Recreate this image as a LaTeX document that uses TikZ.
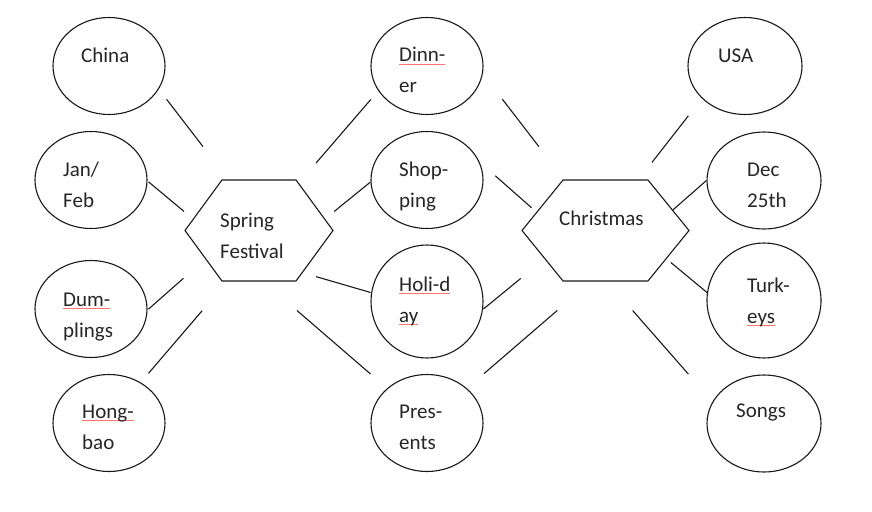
\documentclass[tikz,border=0pt]{standalone}
\usepackage{fontspec}
\setmainfont{Carlito}
\usetikzlibrary{shapes.geometric,shapes.symbols}

\newcommand{\twolines}[2]{\vtop{\baselineskip=31pt\hbox{#1}\hbox{#2}}}
\newcommand{\typo}[1]{\setbox0\hbox{#1}\rlap{\color{red!55}\rule[-0.25ex]{\wd0}{0.6pt}}\box0}

\begin{document}
\begin{tikzpicture}[x=1pt, y=-1pt,
  topic/.style={ellipse, draw=black!90, line width=1.1pt, minimum width=112pt, minimum height=97pt, inner sep=0pt},
  hub/.style={signal, signal to=west and east, draw=black!90, line width=1.1pt, minimum height=101pt, inner sep=0pt},
  word/.style={anchor=base west, inner sep=0pt, text=black!85, font=\fontsize{21pt}{31pt}\selectfont},
  link/.style={draw=black!90, line width=1.1pt},
  ]
 \path[use as bounding box, fill=white] (0,0) rectangle (872,511);

 \node [hub, minimum width=148pt, signal pointer angle=107.6] (spring) at (259,230.5) {};
 \node [hub, minimum width=167pt, signal pointer angle=101.8] (xmas) at (605.5,230.5) {};

 \node [topic] (china) at (109,66) {};
 \node [topic] (janfeb) at (91,180) {};
 \node [topic] (dumplings) at (91,309) {};
 \node [topic] (hongbao) at (109,423) {};
 \node [topic] (dinner) at (427,66) {};
 \node [topic] (shopping) at (427,180) {};
 \node [topic, minimum height=113pt] (holiday) at (427,301.5) {};
 \node [topic] (presents) at (427,423) {};
 \node [topic, minimum width=114pt] (usa) at (745,66) {};
 \node [topic, minimum width=114pt] (dec) at (764,180.5) {};
 \node [topic, minimum width=114pt, minimum height=115pt] (turkeys) at (764,300.5) {};
 \node [topic, minimum width=114pt] (songs) at (764,423.5) {};

 \node [word] (spring-t) at (220,227) {\twolines{Spring}{Festival}};
 \node [word] (xmas-t) at (559,225.5) {Christmas};
 \node [word] (china-t) at (81,63) {China};
 \node [word] (janfeb-t) at (63,176.5) {\twolines{Jan/}{Feb}};
 \node [word] (dumplings-t) at (63,306) {\twolines{\typo{Dum-}}{plings}};
 \node [word] (hongbao-t) at (82,418) {\twolines{\typo{Hong-}}{bao}};
 \node [word] (dinner-t) at (399,62) {\twolines{\typo{Dinn-}}{er}};
 \node [word] (shopping-t) at (399,176) {\twolines{Shop-}{ping}};
 \node [word] (holiday-t) at (399,291) {\twolines{\typo{Holi-d}}{\typo{ay}}};
 \node [word] (presents-t) at (399,418.5) {\twolines{Pres-}{ents}};
 \node [word] (usa-t) at (718,63) {USA};
 \node [word] (dec-t) at (747,176) {\twolines{Dec}{25th}};
 \node [word] (turkeys-t) at (747,292) {\twolines{Turk-}{\typo{eys}}};
 \node [word] (songs-t) at (736,417) {Songs};

 \draw [link, shorten <=12.7pt, shorten >=41.7pt] (china.-25) -- (spring.121.5);
 \draw [link, shorten <=1.3pt, shorten >=11.5pt] (janfeb.-1) -- (spring.170.5);
 \draw [link, shorten <=1.3pt, shorten >=29pt] (dumplings.-1) -- (spring.208.3);
 \draw [link, shorten <=12pt, shorten >=38.3pt] (hongbao.52) -- (spring.238.5);
 \draw [link, shorten <=26.1pt, shorten >=11.4pt] (spring.50) -- (dinner.207);
 \draw [link, shorten <=11.6pt] (spring.10) -- (shopping.182);
 \draw [link, shorten <=13.9pt, shorten >=0.6pt] (spring.-44) -- (holiday.171.5);
 \draw [link, shorten <=44.3pt, shorten >=21.8pt] (spring.-85) -- (presents.139);
 \draw [link, shorten <=32pt, shorten >=41.7pt] (dinner.-8) -- (xmas.129);
 \draw [link, shorten <=21pt, shorten >=6.4pt] (shopping.19) -- (xmas.165);
 \draw [link, shorten <=0.6pt, shorten >=30.7pt] (holiday.-8) -- (xmas.205);
 \draw [link, shorten <=22.4pt, shorten >=44.3pt] (presents.41) -- (xmas.254.5);
 \draw [link, shorten <=21.6pt, shorten >=22pt] (xmas.57) -- (usa.217.6);
 \draw [link] (xmas.17) -- (dec.180);
 \draw [link, shorten <=5.5pt] (xmas.-25) -- (turkeys.172);
 \draw [link, shorten <=38.5pt, shorten >=36.6pt] (xmas.-88) -- (songs.157);
\end{tikzpicture}
\end{document}
